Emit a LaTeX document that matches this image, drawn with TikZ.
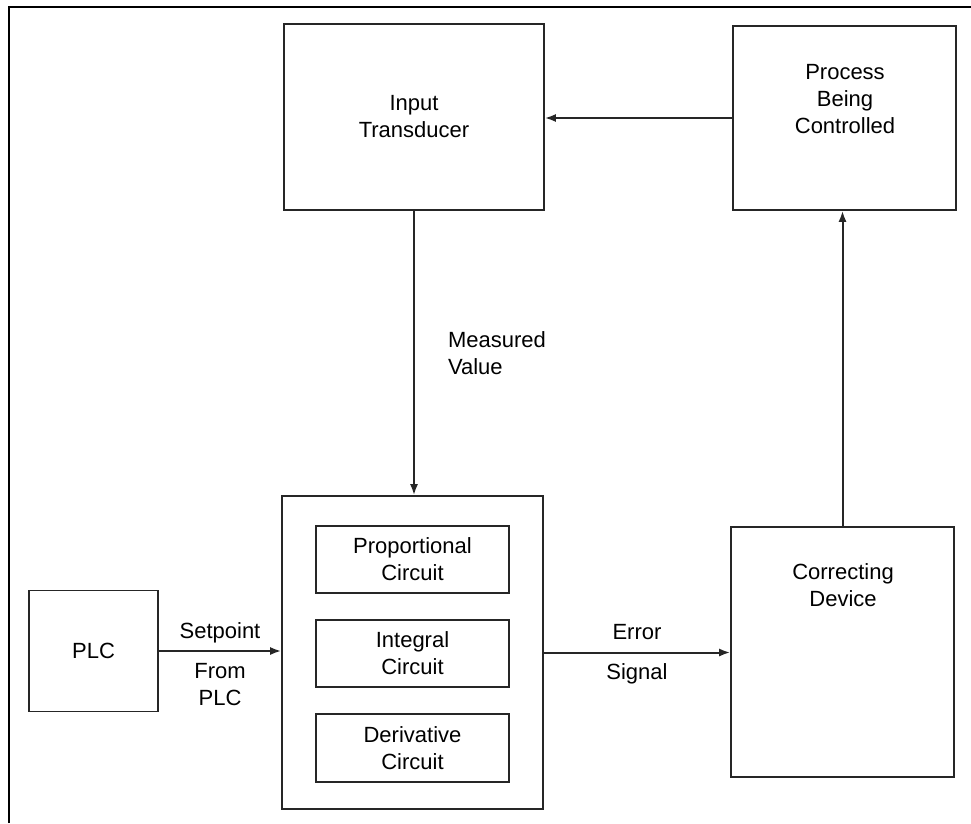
\documentclass[tikz,border=0pt]{standalone}
\usepackage{fontspec}
\setmainfont{Liberation Sans}
\usetikzlibrary{arrows.meta,positioning}

\begin{document}
\begin{tikzpicture}[x=1pt,y=-1pt]
		\tikzset{block/.style = {shape=rectangle,draw=black!85,line width=1.6pt,inner sep=0pt,align=center,font=\fontsize{22}{27}\selectfont}}
		\tikzset{txt/.style = {align=center,inner sep=3pt,font=\fontsize{22}{27}\selectfont}}
		\tikzset{edge/.style = {-{Latex[length=11pt,width=8pt]},line width=2pt,draw=black!85}}
		\useasboundingbox (0,0) rectangle (971,823);
		% frame along the top and the left side
		\draw[line width=2.6pt] (9,823) -- (9,7) -- (971,7);
		\node[block,minimum width=260,minimum height=186] (trans) at (414,117) {Input\\Transducer};
		\node[block,minimum width=223,minimum height=184] (proc) at (844.5,118) {};
		\node[txt] (proctext) at (845,99) {Process\\Being\\Controlled};
		\node[block,minimum width=261,minimum height=313] (pid) at (412.5,652.5) {};
		\node[block,minimum width=193,minimum height=67] (prop) at (412.5,559.5) {Proportional\\Circuit};
		\node[block,minimum width=193,minimum height=67] (integ) at (412.5,653.5) {Integral\\Circuit};
		\node[block,minimum width=193,minimum height=68] (deriv) at (412.5,748) {Derivative\\Circuit};
		\node[block,minimum width=129,minimum height=121] (plc) at (93.5,651) {PLC};
		\node[block,minimum width=223,minimum height=250] (cor) at (842.5,652) {};
		\node[txt] (cortext) at (843,585) {Correcting\\Device};
		\draw[edge] (proc.west) -- (proc.west -| trans.east);
		\draw[edge] (trans.south) -- node[txt,midway,right=30pt,align=left] (meas) {Measured\\Value} (trans.south |- pid.north);
		\draw[edge] (plc.east) -- node[txt,midway,above=4pt] (setp) {Setpoint} node[txt,midway,below=8pt] (from) {From\\PLC} (plc.east -| pid.west);
		\draw[edge] (pid.east) -- node[txt,midway,above=9pt] (err) {Error} node[txt,midway,below=7pt] (sig) {Signal} (pid.east -| cor.west);
		\draw[edge] (cor.north) -- (cor.north |- proc.south);
	\end{tikzpicture}
\end{document}
